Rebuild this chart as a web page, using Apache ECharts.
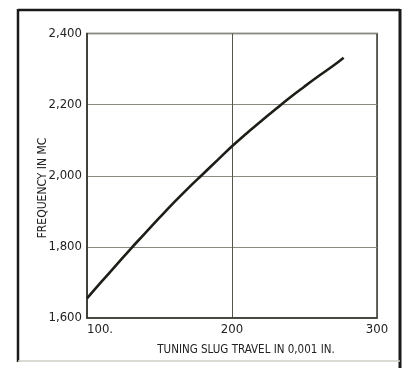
<!DOCTYPE html>
<html>
<head>
<meta charset="utf-8">
<script src="https://cdn.jsdelivr.net/npm/echarts@6/dist/echarts.min.js"></script>
<style>
html,body{margin:0;padding:0;background:#fff;}
#c{width:405px;height:368px;}
</style>
</head>
<body>
<div id="c"></div>
<script>
const xTravel = [100, 110, 120, 130, 140, 150, 160, 170, 180, 190, 200, 210, 220, 230, 240, 250, 260, 270, 277];
const yFreq = [1655, 1702, 1748, 1794, 1838, 1882, 1925, 1966, 2005, 2044, 2083, 2119, 2153, 2187, 2220, 2251, 2281, 2310, 2332];
const xTickLabels = {100: '100.', 200: '200', 300: '300'};
const yTickLabels = {1600: '1,600', 1800: '1,800', 2000: '2,000', 2200: '2,200', 2400: '2,400'};
const xAxisTitle = 'TUNING SLUG TRAVEL IN 0,001 IN.';
const yAxisTitle = 'FREQUENCY IN MC';

const font = "'DejaVu Sans Condensed', 'Liberation Sans Narrow', sans-serif";
const chart = echarts.init(document.getElementById('c'), null, {renderer: 'canvas'});
chart.setOption({
  backgroundColor: '#ffffff',
  animation: false,
  grid: {left: 87, right: 28, top: 33.5, bottom: 50, show: true, borderColor: '#3a3a32', borderWidth: 1.5, backgroundColor: 'transparent'},
  xAxis: {
    type: 'value', min: 100, max: 300, interval: 100,
    axisLine: {show: true, lineStyle: {color: '#3a3a32', width: 1.5}},
    axisTick: {show: false},
    axisLabel: {color: '#222', fontFamily: font, fontSize: 13, margin: 5, alignMinLabel: 'left',
      formatter: v => xTickLabels[v] || ''},
    splitLine: {show: true, lineStyle: {color: '#55554c', width: 1}}
  },
  yAxis: {
    type: 'value', min: 1600, max: 2400, interval: 200,
    axisLine: {show: true, lineStyle: {color: '#3a3a32', width: 1.5}},
    axisTick: {show: false},
    axisLabel: {color: '#222', fontFamily: font, fontSize: 13, margin: 5,
      formatter: v => yTickLabels[v] || ''},
    splitLine: {show: true, lineStyle: {color: '#8a8a80', width: 1}}
  },
  series: [{
    type: 'line',
    data: xTravel.map((x, i) => [x, yFreq[i]]),
    smooth: true,
    showSymbol: false,
    lineStyle: {color: '#1e1e18', width: 2.6}
  }],
  graphic: [
    {type: 'line', shape: {x1: 18, y1: 10, x2: 400, y2: 10}, style: {stroke: '#1a1a1a', lineWidth: 2.5}},
    {type: 'line', shape: {x1: 18, y1: 9, x2: 18, y2: 362}, style: {stroke: '#1a1a1a', lineWidth: 2.5}},
    {type: 'line', shape: {x1: 400, y1: 9, x2: 400, y2: 368}, style: {stroke: '#1a1a1a', lineWidth: 3}},
    {type: 'line', shape: {x1: 18, y1: 361, x2: 400, y2: 361}, style: {stroke: '#cfcfc8', lineWidth: 1.5}},
    {type: 'text', x: 246, y: 350, style: {text: xAxisTitle, font: "11.5px " + font, fill: '#222', align: 'center', verticalAlign: 'middle'}},
    {type: 'text', x: 43, y: 188, rotation: Math.PI / 2, style: {text: yAxisTitle, font: "12px " + font, fill: '#222', align: 'center', verticalAlign: 'middle'}}
  ]
});
</script>
</body>
</html>
